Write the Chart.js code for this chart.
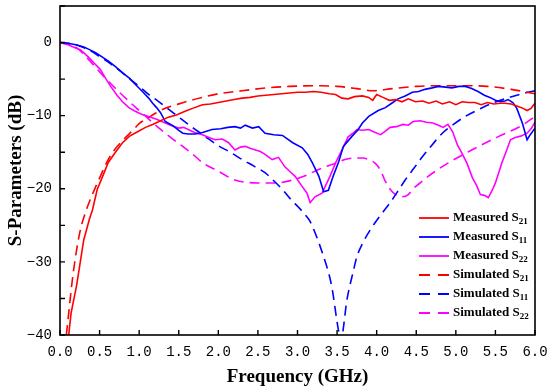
<!DOCTYPE html>
<html>
<head>
<meta charset="utf-8">
<script src="https://cdn.jsdelivr.net/npm/chart.js@4.4.1/dist/chart.umd.min.js"></script>
<style>
html,body{margin:0;padding:0;background:#fff;}
#wrap{width:550px;height:391px;}
</style>
</head>
<body>
<div id="wrap"><canvas id="c" width="550" height="391"></canvas></div>
<script>
// ---- data ----
const measS21F = [0.11,0.14,0.21,0.30,0.37,0.41,0.47,0.55,0.61,0.70,0.79,0.88,0.98,1.08,1.17,1.27,1.37,1.47,1.58,1.70,1.80,1.90,2.0,2.1,2.2,2.3,2.4,2.5,2.6,2.7,2.8,2.9,3.0,3.1,3.2,3.3,3.4,3.48,3.56,3.64,3.72,3.82,3.9,3.95,4.0,4.08,4.16,4.24,4.32,4.4,4.49,4.58,4.66,4.75,4.83,4.92,5.0,5.08,5.16,5.24,5.32,5.4,5.48,5.56,5.62,5.7,5.78,5.85,5.9,5.95,6.0];
const measS21 = [-40,-37,-33.2,-27,-24.2,-22.9,-20.1,-18,-16.4,-15,-13.7,-12.8,-12.2,-11.6,-11.2,-10.7,-10.2,-9.9,-9.4,-8.9,-8.5,-8.4,-8.2,-8.0,-7.8,-7.6,-7.5,-7.3,-7.2,-7.1,-7.0,-6.9,-6.8,-6.8,-6.7,-6.8,-7.0,-7.1,-7.6,-7.7,-7.4,-7.3,-7.5,-7.9,-7.1,-7.5,-7.9,-7.8,-8.1,-7.7,-8.1,-8.0,-8.3,-8.0,-8.4,-8.1,-8.5,-8.1,-8.2,-8.2,-8.5,-8.2,-8.4,-8.3,-8.3,-8.4,-8.7,-9.0,-9.3,-9.0,-8.3];

const simS21F = [0.08,0.11,0.15,0.2,0.26,0.33,0.4,0.46,0.53,0.6,0.68,0.8,0.93,1.0,1.1,1.2,1.33,1.47,1.62,1.8,2.0,2.3,2.6,2.9,3.2,3.5,3.75,3.95,4.2,4.5,4.8,5.1,5.4,5.7,6.0];
const simS21 = [-40,-37,-33,-29,-25.5,-23,-21,-19.5,-17.8,-16.2,-14.8,-13.3,-11.9,-11.1,-10.4,-9.7,-9.0,-8.5,-8.0,-7.5,-7.0,-6.6,-6.2,-6.0,-5.9,-6.0,-6.3,-6.6,-6.3,-6.0,-5.9,-5.9,-6.0,-6.4,-7.0];

const measS11F = [0,0.1,0.2,0.3,0.36,0.45,0.55,0.62,0.7,0.8,0.88,0.95,1.05,1.12,1.17,1.22,1.27,1.33,1.38,1.43,1.5,1.55,1.62,1.71,1.8,1.92,2.03,2.12,2.21,2.28,2.34,2.43,2.51,2.59,2.7,2.81,2.94,3.06,3.13,3.19,3.27,3.33,3.39,3.45,3.52,3.58,3.69,3.76,3.82,3.9,4.02,4.11,4.19,4.27,4.36,4.45,4.53,4.61,4.7,4.78,4.87,4.95,5.04,5.12,5.2,5.28,5.36,5.43,5.5,5.56,5.62,5.66,5.72,5.77,5.84,5.9,5.94,6.0];
const measS11 = [0,-0.1,-0.3,-0.6,-0.9,-1.4,-2.1,-2.6,-3.3,-4.2,-4.9,-5.7,-6.8,-7.6,-8.3,-8.9,-9.6,-10.8,-11.1,-11.4,-12.0,-12.4,-12.5,-12.5,-12.3,-11.9,-11.8,-11.6,-11.5,-11.7,-11.3,-11.7,-11.5,-12.4,-12.6,-12.7,-13.7,-14.4,-15.3,-16.5,-18.3,-20.4,-20.2,-18.3,-16.3,-14.2,-12.8,-12.0,-11.0,-10.1,-9.3,-8.9,-8.3,-7.7,-7.3,-6.8,-6.7,-6.4,-6.2,-6.0,-6.1,-6.2,-6.0,-6.0,-6.3,-6.7,-7.2,-7.5,-7.9,-8.1,-8.0,-7.8,-8.2,-9.0,-11.0,-13.3,-12.6,-11.7];

const simS11F = [0,0.2,0.38,0.5,0.64,0.75,0.86,1.0,1.12,1.25,1.37,1.5,1.62,1.75,1.84,2.0,2.15,2.3,2.45,2.59,2.7,2.81,2.92,3.01,3.1,3.16,3.25,3.33,3.4,3.44,3.49,3.52,3.55,3.58,3.62,3.65,3.7,3.75,3.83,3.92,4.05,4.17,4.27,4.36,4.47,4.58,4.7,4.83,4.97,5.12,5.3,5.46,5.65,5.87,6.0];
const simS11 = [0,-0.3,-1.1,-1.9,-2.9,-3.8,-4.8,-6.0,-7.1,-8.1,-9.1,-10.2,-11.2,-12.2,-12.9,-14.1,-15.0,-16.0,-16.9,-17.8,-18.9,-20.1,-21.5,-22.5,-23.6,-24.5,-26.8,-29.3,-31.8,-33.8,-37.5,-39.5,-41,-39,-35.5,-33.8,-31.5,-29.3,-27.3,-25.6,-23.6,-21.9,-20.3,-18.8,-17.2,-15.6,-14.0,-12.4,-11.2,-10.1,-9.1,-8.3,-7.6,-6.9,-6.6];

const measS22F = [0,0.1,0.19,0.26,0.36,0.43,0.51,0.57,0.64,0.72,0.79,0.87,0.95,1.03,1.12,1.22,1.33,1.42,1.5,1.56,1.62,1.7,1.8,1.88,1.96,2.05,2.13,2.21,2.28,2.34,2.41,2.47,2.53,2.59,2.68,2.76,2.84,2.9,2.97,3.06,3.12,3.16,3.22,3.31,3.41,3.48,3.56,3.64,3.7,3.75,3.82,3.9,3.96,4.05,4.11,4.17,4.25,4.33,4.4,4.46,4.55,4.63,4.71,4.78,4.84,4.9,4.96,5.02,5.08,5.14,5.21,5.26,5.31,5.36,5.41,5.46,5.5,5.58,5.65,5.69,5.75,5.82,5.9,5.95,6.0];
const measS22 = [0,-0.3,-0.7,-1.0,-2.0,-2.8,-3.7,-4.8,-6.0,-7.2,-8.1,-8.9,-9.4,-9.8,-10.1,-10.5,-11.0,-11.4,-11.7,-11.6,-11.9,-12.3,-12.6,-13.0,-13.3,-13.2,-13.7,-14.7,-14.3,-14.2,-14.5,-14.7,-14.9,-15.3,-16.0,-15.7,-17.0,-17.6,-18.3,-19.7,-20.6,-21.9,-21.1,-20.6,-18.3,-16.5,-14.7,-12.9,-12.4,-11.9,-12.0,-11.9,-12.2,-12.6,-12.1,-11.6,-11.5,-11.2,-11.3,-10.8,-10.7,-10.9,-11.0,-11.3,-11.6,-11.2,-12.2,-14.0,-15.2,-16.5,-18.5,-19.5,-20.8,-20.9,-21.2,-20.2,-19.2,-16.5,-14.5,-13.3,-13.0,-12.8,-12.4,-11.8,-10.9];

const simS22F = [0,0.1,0.22,0.36,0.55,0.76,0.99,1.24,1.4,1.55,1.68,1.81,2.0,2.21,2.51,2.72,2.94,3.08,3.22,3.35,3.48,3.6,3.73,3.82,3.9,3.98,4.05,4.11,4.18,4.24,4.32,4.4,4.45,4.55,4.65,4.9,5.2,5.53,5.84,6.0];
const simS22 = [0,-0.2,-0.8,-2.3,-4.6,-6.9,-9.2,-11.6,-13.0,-14.2,-15.3,-16.5,-17.6,-18.8,-19.2,-19.2,-18.8,-18.3,-17.6,-17.0,-16.5,-16.0,-15.8,-15.8,-16.0,-16.5,-17.5,-19.0,-20.2,-20.8,-21.1,-20.8,-20.1,-19.2,-18.3,-16.5,-14.7,-12.9,-11.3,-10.1];

const seriesNames = ['Measured S', 'Measured S', 'Measured S', 'Simulated S', 'Simulated S', 'Simulated S'];
const seriesSubs = ['21', '11', '22', '21', '11', '22'];
const xTicks = [0,0.5,1,1.5,2,2.5,3,3.5,4,4.5,5,5.5,6];
const yTicks = [5,0,-5,-10,-15,-20,-25,-30,-35,-40];

// ---- build ----
function pts(f, v){ return f.map((x,i)=>({x:x, y:v[i]})); }
const RED='#ff0000', BLUE='#0000ff', MAG='#ff00ff';
const DASH=[10,6];
function ds(i, f, v, color, dashed){
  return {
    label: seriesNames[i] + seriesSubs[i],
    data: pts(f, v),
    borderColor: color,
    backgroundColor: color,
    borderWidth: 1.6,
    borderDash: dashed ? DASH : [],
    pointRadius: 0,
    tension: 0,
    cubicInterpolationMode: dashed ? 'monotone' : 'default',
    fill: false
  };
}
const datasets = [
  ds(0, measS21F, measS21, RED, false),
  ds(1, measS11F, measS11, BLUE, false),
  ds(2, measS22F, measS22, MAG, false),
  ds(3, simS21F, simS21, RED, true),
  ds(4, simS11F, simS11, BLUE, true),
  ds(5, simS22F, simS22, MAG, true)
];

const framePlugin = {
  id: 'frame',
  afterDatasetsDraw(chart){
    const {ctx, chartArea:a, scales} = chart;
    ctx.save();
    ctx.strokeStyle = '#000';
    ctx.lineWidth = 1.6;
    ctx.strokeRect(a.left, a.top, a.right - a.left, a.bottom - a.top);
    ctx.lineWidth = 1.4;
    ctx.beginPath();
    xTicks.forEach(t => { const px = scales.x.getPixelForValue(t); ctx.moveTo(px, a.bottom); ctx.lineTo(px, a.bottom - 5); });
    yTicks.forEach(t => { const py = scales.y.getPixelForValue(t); ctx.moveTo(a.left, py); ctx.lineTo(a.left + 5, py); });
    ctx.stroke();
    ctx.restore();
  }
};

const legendPlugin = {
  id: 'subLegend',
  afterDatasetsDraw(chart){
    const {ctx, chartArea:a} = chart;
    ctx.save();
    chart.data.datasets.forEach((d, i) => {
      const y = a.bottom - 117 + i * 19;
      const x0 = a.right - 116, x1 = a.right - 86;
      ctx.strokeStyle = d.borderColor;
      ctx.lineWidth = 1.8;
      ctx.setLineDash(d.borderDash.length ? [11, 8] : []);
      ctx.beginPath(); ctx.moveTo(x0, y); ctx.lineTo(x1, y); ctx.stroke();
      ctx.setLineDash([]);
      ctx.fillStyle = '#000';
      ctx.textBaseline = 'middle';
      ctx.textAlign = 'left';
      ctx.font = 'bold 13px "Liberation Serif"';
      const tx = a.right - 82;
      ctx.fillText(seriesNames[i], tx, y);
      const w = ctx.measureText(seriesNames[i]).width;
      ctx.font = 'bold 9px "Liberation Serif"';
      ctx.fillText(seriesSubs[i], tx + w, y + 4);
    });
    ctx.restore();
  }
};

new Chart(document.getElementById('c'), {
  type: 'line',
  data: { datasets },
  options: {
    responsive: false,
    animation: false,
    devicePixelRatio: 1,
    layout: { padding: { top: 6, right: 15, left: 0, bottom: 0 } },
    plugins: { legend: { display: false }, tooltip: { enabled: false } },
    scales: {
      x: {
        type: 'linear', min: 0, max: 6,
        afterBuildTicks: s => { s.ticks = xTicks.map(v => ({value: v})); },
        afterFit: s => { s.height = 56; s.paddingLeft = 0; s.paddingRight = 0; },
        grid: { display: false, drawTicks: false },
        border: { display: false },
        ticks: { callback: v => v.toFixed(1), color: '#000', font: { family: '"Liberation Mono"', size: 14 }, padding: 9, maxRotation: 0, autoSkip: false },
        title: { display: true, text: 'Frequency (GHz)', color: '#000', font: { family: '"Liberation Serif"', size: 19, weight: 'bold' }, padding: { top: 0, bottom: 3 } }
      },
      y: {
        type: 'linear', min: -40, max: 5,
        afterBuildTicks: s => { s.ticks = yTicks.map(v => ({value: v})); },
        afterFit: s => { s.width = 60; s.paddingTop = 0; s.paddingBottom = 0; },
        grid: { display: false, drawTicks: false },
        border: { display: false },
        ticks: { callback: v => (v % 10 === 0 ? (v < 0 ? '\u2212' + (-v) : String(v)) : ''), color: '#000', font: { family: '"Liberation Mono"', size: 14 }, padding: 8, autoSkip: false },
        title: { display: true, text: 'S-Parameters (dB)', color: '#000', font: { family: '"Liberation Serif"', size: 19, weight: 'bold' }, padding: { top: 5, bottom: 0 } }
      }
    }
  },
  plugins: [framePlugin, legendPlugin]
});
</script>
</body>
</html>
